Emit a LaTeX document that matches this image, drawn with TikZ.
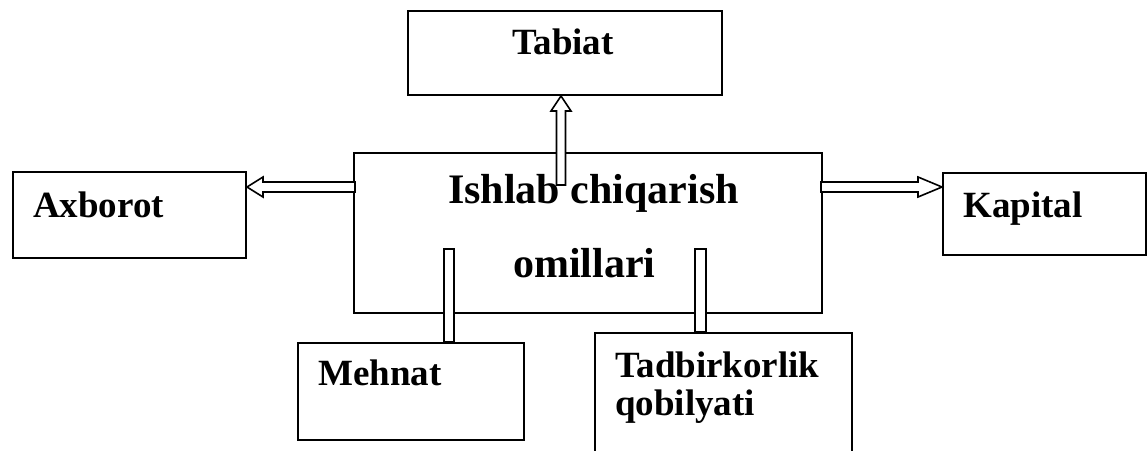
\documentclass[tikz,border=0pt]{standalone}
\usepackage{fontspec}
\setmainfont{Liberation Serif}
\usepackage{tikz}
\usetikzlibrary{calc}

\tikzset{
    box/.style={draw, line width=2pt, anchor=north west, inner sep=0pt},
    boxtext/.style={font=\fontsize{37}{44}\selectfont\bfseries, anchor=base west, inner sep=0pt},
    maintext/.style={font=\fontsize{42}{50}\selectfont\bfseries, anchor=base west, inner sep=0pt},
    hollow/.style={draw, fill=white, line width=1.6pt, line join=miter}
}

\begin{document}
\begin{tikzpicture}[x=1pt, y=-1pt]
    \useasboundingbox (0, 0) rectangle (1147, 450);
    \clip (0, 0) rectangle (1147, 450);

    \node[box, minimum width=314pt, minimum height=84pt](tabiat) at (407, 10){};
    \node[box, minimum width=468pt, minimum height=160pt](omil) at (353, 152){};
    \node[box, minimum width=233pt, minimum height=86pt](axborot) at (12, 171){};
    \node[box, minimum width=203pt, minimum height=82pt](kapital) at (942, 172){};
    \node[box, minimum width=226pt, minimum height=97pt](mehnat) at (297, 342){};
    \node[box, minimum width=257pt, minimum height=130pt](tadbir) at (594, 332){};

    \coordinate (up) at (561, 183);
    \coordinate (lt) at (0, 187);
    \coordinate (lb) at (449, 249);
    \coordinate (rb) at (700.5, 249);

    \draw[hollow](up |- tabiat.south) -- ++(10, 15) -- ++(-5.5, 0) -- ++(0, 74) -- ++(-9, 0) -- ++(0, -74) -- ++(-5.5, 0) -- cycle;
    \draw[hollow](axborot.east |- lt) -- ++(16, -10) -- ++(0, 5) -- ++(92, 0) -- ++(0, 10) -- ++(-92, 0) -- ++(0, 5) -- cycle;
    \draw[hollow](kapital.west |- lt) -- ++(-24, -10) -- ++(0, 5) -- ++(-97, 0) -- ++(0, 10) -- ++(97, 0) -- ++(0, 5) -- cycle;
    \draw[hollow]($(lb) + (-5, 0)$) rectangle ($(lb |- mehnat.north) + (5, 0)$);
    \draw[hollow]($(rb) + (-5.5, 0)$) rectangle ($(rb |- tadbir.north) + (5.5, 0)$);

    \node[boxtext](tabiat-t) at (512, 54){Tabiat};
    \node[maintext](omil-t1) at (448, 203){Ishlab chiqarish};
    \node[maintext](omil-t2) at (513, 277){omillari};
    \node[boxtext](axborot-t) at (33, 217){Axborot};
    \node[boxtext](kapital-t) at (963, 217){Kapital};
    \node[boxtext](mehnat-t) at (318, 385){Mehnat};
    \node[boxtext](tadbir-t1) at (615, 377){Tadbirkorlik};
    \node[boxtext](tadbir-t2) at (615, 415){qobilyati};
\end{tikzpicture}
\end{document}
